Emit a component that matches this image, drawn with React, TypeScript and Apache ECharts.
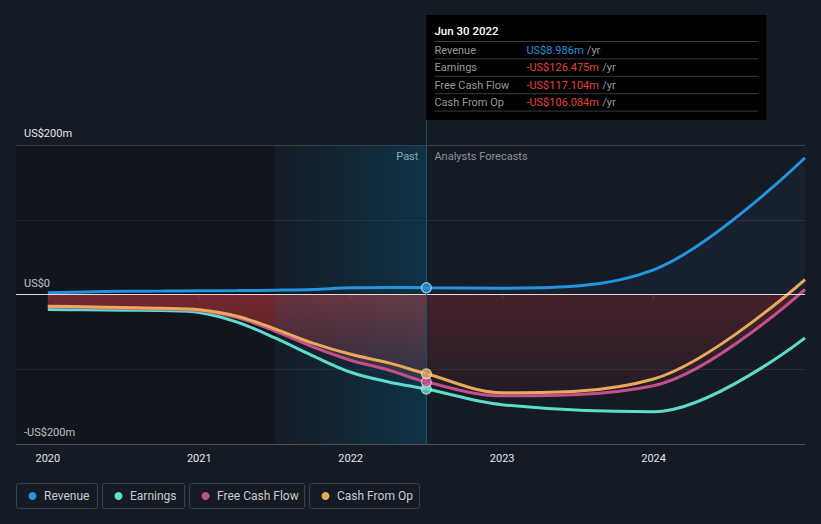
import React, { useEffect, useRef } from "react";
import * as echarts from "echarts";

// ---- data ----
const pastX = [2020, 2020.25, 2020.5, 2020.75, 2021, 2021.25, 2021.5, 2021.75, 2022, 2022.25, 2022.5];
const foreX = [2022.5, 2023, 2024, 2025];
const revenuePast = [2.5, 3.5, 4.2, 4.6, 5, 5.2, 5.8, 6.8, 9, 9.4, 8.986];
const revenueFore = [8.986, 8.5, 33, 183];
const earningsPast = [-20, -20.5, -21, -21.5, -24, -37, -58, -82, -104, -117, -126.475];
const earningsFore = [-126.475, -147.5, -157, -58];
const fcfPast = [-16.5, -17.5, -18.5, -19.5, -21.5, -31, -49, -70, -88, -101, -117.104];
const fcfFore = [-117.104, -135.5, -122, 7];
const cfoPast = [-15.7, -16.5, -17.5, -18.5, -20.5, -29, -46, -65, -80, -91.5, -106.084];
const cfoFore = [-106.084, -131.5, -113, 20];

const seriesNames = ["Revenue", "Earnings", "Free Cash Flow", "Cash From Op"];
const seriesColors = ["#2394df", "#5ddccb", "#c4508b", "#e9a95b"];
const xTicks = [2020, 2021, 2022, 2023, 2024];
const yTicks = [-200, 0, 200];
const nowX = 2022.5;
const pastStartX = 2021.5;
const tipTitle = "Jun 30 2022";

const pairs = (xs: number[], ys: number[]) => xs.map((x, i) => [x, ys[i]]);
const full = (p: number[], f: number[]) => pairs(pastX.concat(foreX.slice(1)), p.concat(f.slice(1)));

const fmtMoney = (v: number) => (v < 0 ? `-US$${Math.abs(v).toFixed(3)}m` : `US$${v.toFixed(3)}m`);
const fmtAxis = (v: number) => (v === 0 ? "US$0" : v > 0 ? `US$${v}m` : `-US$${-v}m`);

const FONT = "Roboto, 'Noto Sans', sans-serif";
const BG = "#151b25";
const SMOOTH = 0.35;

export default function App() {
  const ref = useRef<HTMLDivElement>(null);

  useEffect(() => {
    if (!ref.current) return;
    const chart = echarts.init(ref.current, undefined, { renderer: "svg" });

    const lineData = [
      full(revenuePast, revenueFore),
      full(earningsPast, earningsFore),
      full(fcfPast, fcfFore),
      full(cfoPast, cfoFore),
    ];
    const nowVals = [revenuePast, earningsPast, fcfPast, cfoPast].map((a) => a[a.length - 1]);
    const bandStart = pastX.indexOf(pastStartX);

    const option: any = {
      animation: false,
      backgroundColor: BG,
      textStyle: { fontFamily: FONT },
      grid: { left: 16, right: 16, top: 145, bottom: 80 },
      xAxis: {
        type: "value",
        min: 2019.79,
        max: 2025,
        axisLine: { show: true, lineStyle: { color: "#4a4f58", width: 1 } },
        axisTick: { show: true, customValues: xTicks, length: 4, lineStyle: { color: "#4a4f58" } },
        axisLabel: {
          customValues: xTicks,
          formatter: (v: number) => String(v),
          color: "#e6e6e6",
          fontSize: 11,
          margin: 9,
        },
        splitLine: { show: false },
      },
      yAxis: {
        type: "value",
        min: -200,
        max: 200,
        interval: 100,
        axisLine: { show: false },
        axisTick: { show: false },
        axisLabel: {
          customValues: yTicks,
          inside: true,
          margin: 8,
          formatter: fmtAxis,
          color: "#e6e6e6",
          fontSize: 11,
          verticalAlign: "bottom",
          padding: [0, 0, 6, 0],
        },
        splitLine: {
          show: true,
          lineStyle: { color: ["#4a4f58", "#2a2e37", "#2a2e37", "#2a2e37", "#3d4149"], width: 1 },
        },
      },
      series: [
        {
          type: "line",
          name: "revFill",
          data: pairs(foreX, revenueFore),
          smooth: SMOOTH,
          symbol: "none",
          lineStyle: { width: 0 },
          areaStyle: { color: "rgba(35,100,170,0.12)", origin: 0 },
          silent: true,
          z: 1,
          markArea: {
            silent: true,
            data: [
              [
                { xAxis: 2019.79, itemStyle: { color: "rgba(0,0,0,0.18)" } },
                { xAxis: pastStartX },
              ],
              [
                {
                  xAxis: pastStartX,
                  itemStyle: {
                    color: {
                      type: "linear", x: 0, y: 0, x2: 1, y2: 0,
                      colorStops: [
                        { offset: 0, color: "rgba(10,60,80,0.05)" },
                        { offset: 1, color: "rgba(8,70,95,0.55)" },
                      ],
                    },
                  },
                },
                { xAxis: nowX },
              ],
            ],
          },
        },
        {
          type: "line",
          name: "redPastA",
          data: pairs(pastX.slice(0, bandStart + 1), fcfPast.slice(0, bandStart + 1)),
          smooth: SMOOTH,
          symbol: "none",
          lineStyle: { width: 0 },
          areaStyle: {
            origin: 0,
            color: {
              type: "linear", x: 0, y: 0, x2: 0, y2: 1,
              colorStops: [
                { offset: 0, color: "rgba(160,48,53,1)" },
                { offset: 1, color: "rgba(140,42,48,0.9)" },
              ],
            },
          },
          silent: true,
          z: 2,
        },
        {
          type: "line",
          name: "redPastB",
          data: pairs(pastX.slice(bandStart), fcfPast.slice(bandStart)),
          smooth: SMOOTH,
          symbol: "none",
          lineStyle: { width: 0 },
          areaStyle: {
            origin: 0,
            color: {
              type: "linear", x: 0, y: 0, x2: 0, y2: 1,
              colorStops: [
                { offset: 0, color: "rgba(150,62,72,0.92)" },
                { offset: 1, color: "rgba(120,60,80,0.45)" },
              ],
            },
          },
          silent: true,
          z: 2,
        },
        {
          type: "line",
          name: "redFore",
          data: pairs(foreX, fcfFore),
          smooth: SMOOTH,
          symbol: "none",
          lineStyle: { width: 0 },
          areaStyle: {
            origin: 0,
            color: {
              type: "linear", x: 0, y: 0, x2: 0, y2: 1,
              colorStops: [
                { offset: 0, color: "rgba(140,40,48,0.62)" },
                { offset: 1, color: "rgba(140,40,48,0.14)" },
              ],
            },
          },
          silent: true,
          z: 2,
        },
        {
          type: "line",
          name: "refLines",
          data: [],
          silent: true,
          z: 3,
          markLine: {
            silent: true,
            symbol: "none",
            label: { show: false },
            data: [
              { yAxis: 0, lineStyle: { color: "rgba(240,232,232,0.9)", width: 1, type: "solid" } },
              { xAxis: nowX, lineStyle: { color: "#1d5166", width: 1, type: "solid" } },
            ],
          },
        },
        ...[1, 2, 3, 0].map((i) => ({
          type: "line",
          name: seriesNames[i],
          data: lineData[i],
          smooth: SMOOTH,
          symbol: "none",
          lineStyle: { color: seriesColors[i], width: 3 },
          itemStyle: { color: seriesColors[i] },
          silent: true,
          z: 4,
        })),
        {
          type: "scatter",
          name: "now",
          data: [1, 2, 3, 0].map((i) => ({
            value: [nowX, nowVals[i]],
            itemStyle: { color: seriesColors[i] },
          })),
          symbolSize: 10,
          itemStyle: { borderColor: "rgba(235,240,245,0.85)", borderWidth: 1.2 },
          silent: true,
          z: 5,
        },
      ],
    };
    chart.setOption(option);

    const px = chart.convertToPixel({ xAxisIndex: 0 }, nowX) as number;
    const gridTop = chart.convertToPixel({ yAxisIndex: 0 }, 200) as number;

    const boxW = 340;
    const boxY = 15;
    const boxH = 105;
    const tipVals = nowVals;
    const graphic: any[] = [];
    graphic.push({
      type: "line",
      shape: { x1: px, y1: boxY + boxH, x2: px, y2: gridTop },
      style: { stroke: "#1d5166", lineWidth: 1 },
      silent: true,
    });
    graphic.push({
      type: "rect",
      shape: { x: px, y: boxY, width: boxW, height: boxH },
      style: { fill: "#000000" },
      silent: true,
    });
    graphic.push({
      type: "text",
      x: px + 8,
      y: boxY + 16,
      style: { text: tipTitle, fill: "#ffffff", font: `500 11.5px ${FONT}`, verticalAlign: "middle" },
      silent: true,
    });
    const rowH = 17.4;
    for (let r = 0; r < 5; r++) {
      const ly = boxY + 26.5 + r * rowH;
      graphic.push({
        type: "line",
        shape: { x1: px + 8, y1: ly, x2: px + boxW - 8, y2: ly },
        style: { stroke: "#3a3a3a", lineWidth: 1 },
        silent: true,
      });
    }
    seriesNames.forEach((n, i) => {
      const cy = boxY + 26.5 + i * rowH + rowH / 2;
      graphic.push({
        type: "text",
        x: px + 8,
        y: cy,
        style: { text: n, fill: "#9a9a9a", font: `11px ${FONT}`, verticalAlign: "middle" },
        silent: true,
      });
      graphic.push({
        type: "text",
        x: px + 100,
        y: cy,
        style: {
          text: `{v|${fmtMoney(tipVals[i])}} {u|/yr}`,
          verticalAlign: "middle",
          rich: {
            v: { fill: i === 0 ? "#2394df" : "#e8403f", font: `11px ${FONT}` },
            u: { fill: "#9a9a9a", font: `11px ${FONT}` },
          },
        },
        silent: true,
      });
    });
    graphic.push({
      type: "text",
      x: px - 8,
      y: gridTop + 11,
      style: { text: "Past", fill: "#ffffff", font: `11px ${FONT}`, align: "right", verticalAlign: "middle" },
      silent: true,
    });
    graphic.push({
      type: "text",
      x: px + 8,
      y: gridTop + 11,
      style: { text: "Analysts Forecasts", fill: "#8e9196", font: `11px ${FONT}`, verticalAlign: "middle" },
      silent: true,
    });
    const legW = [81, 82, 115, 110];
    let lx = 16;
    seriesNames.forEach((n, i) => {
      graphic.push({
        type: "rect",
        shape: { x: lx + 0.5, y: 483.5, width: legW[i], height: 25, r: 2 },
        style: { fill: "transparent", stroke: "#3b4049", lineWidth: 1 },
        silent: true,
      });
      graphic.push({
        type: "circle",
        shape: { cx: lx + 16.5, cy: 496, r: 4 },
        style: { fill: seriesColors[i] },
        silent: true,
      });
      graphic.push({
        type: "text",
        x: lx + 28,
        y: 496,
        style: { text: n, fill: "#c9cbcf", font: `12px ${FONT}`, verticalAlign: "middle" },
        silent: true,
      });
      lx += legW[i] + 5;
    });
    chart.setOption({ graphic });

    return () => chart.dispose();
  }, []);

  return (
    <div
      ref={ref}
      style={{ position: "fixed", left: 0, top: 0, width: 821, height: 524, background: BG }}
    />
  );
}
